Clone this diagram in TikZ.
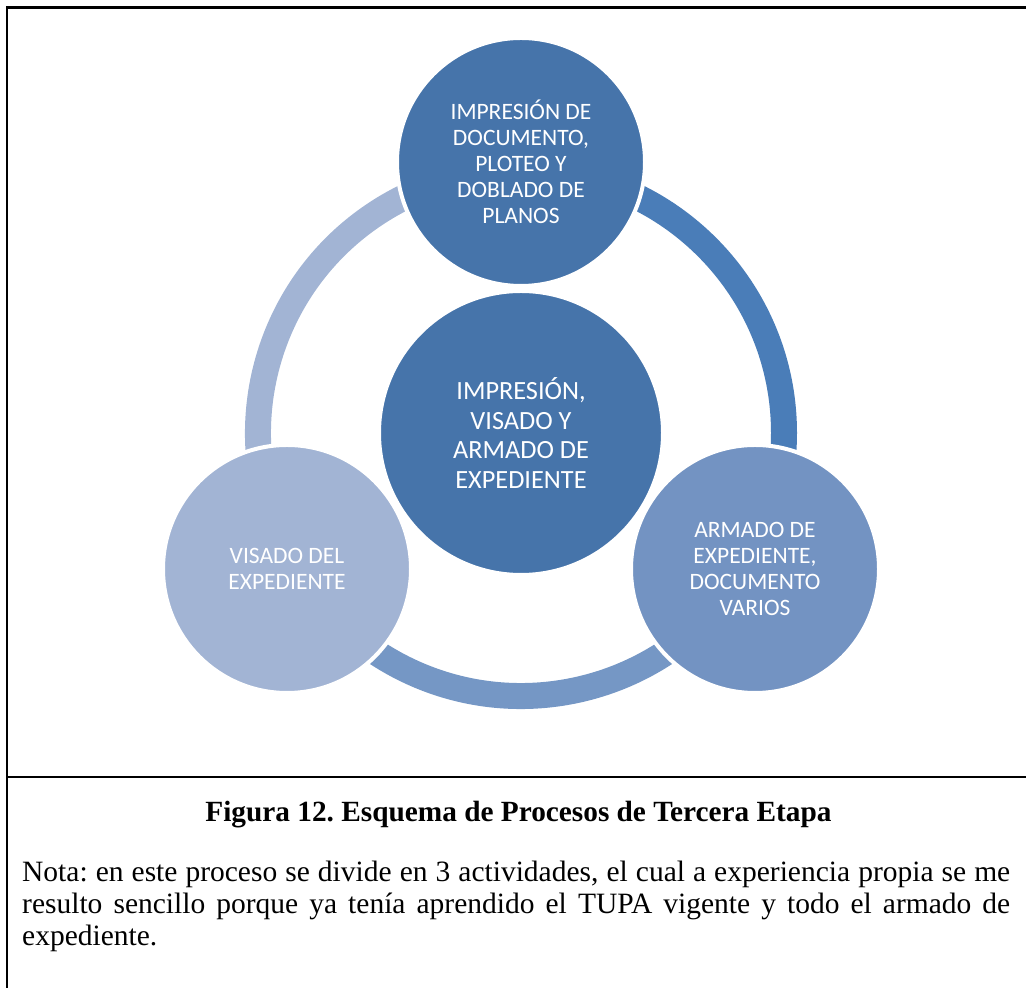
\documentclass[tikz,border=0pt]{standalone}
\usepackage{fontspec}
\setmainfont{Liberation Serif}
\newfontfamily\calibri{Carlito}
\definecolor{cDark}{RGB}{70,116,170}
\definecolor{cArcR}{RGB}{74,125,184}
\definecolor{cMid}{RGB}{115,147,194}
\definecolor{cArcB}{RGB}{117,151,197}
\definecolor{cLight}{RGB}{162,180,212}
\tikzset{
  bubble/.style={circle, minimum size=248pt, inner sep=0pt, draw=white, line width=4pt,
    text=white, align=center, font=\calibri\fontsize{23.5}{26}\selectfont},
  ringarc/.style={line width=26pt},
  frame/.style={line width=2.5pt, black, line cap=rect}
}
\frenchspacing
\begin{document}
\begin{tikzpicture}[x=1pt,y=1pt]
\useasboundingbox (0,0) rectangle (1026,988);
% frame
\draw[frame] (1026,980.7) -- (7,980.7) -- (7,-2);
\draw[frame] (7,211) -- (1026,211);
% ring
\coordinate (c) at (521,555);
\draw[ringarc, cArcR] (c) ++(90:263) arc[start angle=90, end angle=-30, radius=263];
\draw[ringarc, cArcB] (c) ++(-30:263) arc[start angle=-30, end angle=-150, radius=263];
\draw[ringarc, cLight] (c) ++(210:263) arc[start angle=210, end angle=90, radius=263];
% circles
\node[bubble, fill=cDark] (top) at (521,826) {IMPRESIÓN DE\\DOCUMENTO,\\PLOTEO Y\\DOBLADO DE\\PLANOS};
\node[bubble, fill=cMid] (right) at (755,419) {ARMADO DE\\EXPEDIENTE,\\DOCUMENTO\\VARIOS};
\node[bubble, fill=cLight] (left) at (287,419) {VISADO DEL\\EXPEDIENTE};
\node[bubble, fill=cDark, minimum size=284pt, font=\calibri\fontsize{26.3}{29.5}\selectfont] (center) at (c) {IMPRESIÓN,\\VISADO Y\\ARMADO DE\\EXPEDIENTE};
% caption
\node[anchor=base, inner sep=0pt, font=\bfseries\fontsize{29.3}{32}\selectfont] (cap) at (518.5,166.5) {Figura 12. Esquema de Procesos de Tercera Etapa};
\node[anchor=base west, inner sep=0pt] (nota) at (22,106.5) {\parbox[t]{988pt}{\fontsize{29.5}{32}\selectfont Nota: en este proceso se divide en 3 actividades, el cual a experiencia propia se me\linebreak resulto sencillo porque ya tenía aprendido el TUPA vigente y todo el armado de\linebreak expediente.}};
\end{tikzpicture}
\end{document}
